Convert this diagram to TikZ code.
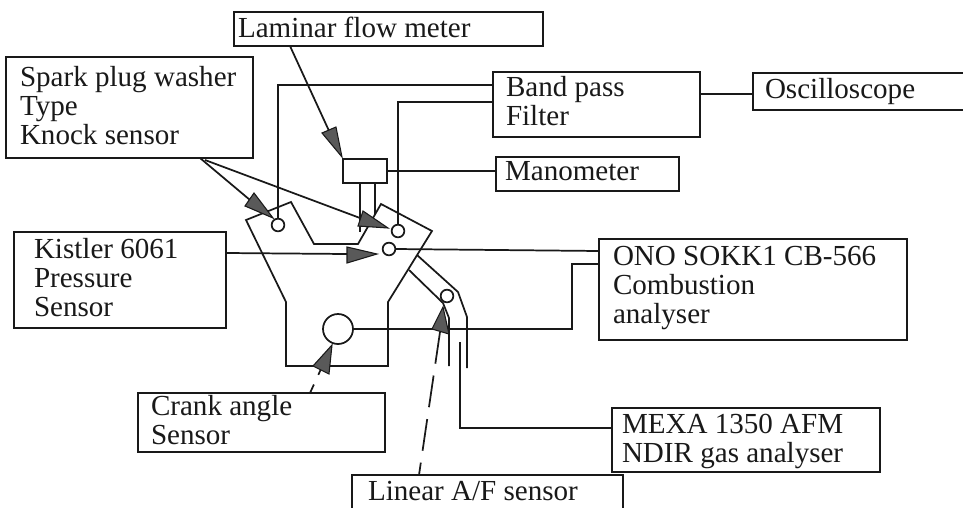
\documentclass[tikz,border=0pt]{standalone}
\usepackage{fontspec}
\setmainfont{Liberation Serif}
\tikzset{
  x=0.75pt,y=-0.75pt,
  line/.style={draw=black!90,line width=1.3pt,line join=miter},
  boxn/.style={draw=black!90,line width=1.4pt,inner sep=0pt,outer sep=0pt,fill=white},
  lbl/.style={anchor=base west,inner sep=0pt,outer sep=0pt,align=left,text=black!90,font=\fontsize{21.8}{21.6}\selectfont},
  sens/.style={circle,draw=black!90,line width=1.3pt,inner sep=0pt,outer sep=0pt,fill=white},
  tipf/.style={fill=black!65,draw=black!90,line width=0.8pt,line join=miter},
  dashl/.style={line,dash pattern=on 24pt off 9pt},
}
\newcommand{\bx}[5]{\node[boxn,minimum width={(#4-#2)*0.75pt},minimum height={(#5-#3)*0.75pt}] (#1) at ({(#2+#4)/2},{(#3+#5)/2}) {};}
\begin{document}
\begin{tikzpicture}
\clip (0,0) rectangle (963,507);
\fill[white] (0,0) rectangle (963,507);

% engine outline
\draw[line] (246,220) -- (291,202) -- (314,244) -- (358,244) -- (381,204) -- (432,231) -- (388,302) -- (388,366) -- (286,366) -- (286,302) -- cycle;
% exhaust
\draw[line] (417,255) -- (458,292) -- (467,317) -- (467,368);
\draw[line] (409,270) -- (443,303) -- (449,318) -- (449,366);

% boxes
\bx{lam}{234}{12}{543}{46}
\bx{spark}{6}{57}{253}{158}
\bx{kis}{14}{232}{226}{328}
\bx{band}{493}{72}{700}{137}
\bx{osc}{753}{73}{975}{110}
\bx{man}{496}{157}{679}{191}
\bx{ono}{599}{239}{907}{340}
\bx{mexa}{612}{408}{880}{472}
\bx{lin}{352}{475}{623}{530}
\bx{crk}{138}{393}{385}{452}
\bx{flow}{343}{159}{387}{183}

% labels
\node[lbl] at (238,37) {Laminar flow meter};
\node[lbl] at (20,144) {Spark plug washer\\Type\\Knock sensor};
\node[lbl] at (34,316) {Kistler 6061\\Pressure\\Sensor};
\node[lbl] at (506,125) {Band pass\\Filter};
\node[lbl] at (765,98) {Oscilloscope};
\node[lbl] at (505,180) {Manometer};
\node[lbl] at (613,323) {ONO SOKK1 CB-566\\Combustion\\analyser};
\node[lbl] at (151,444) {Crank angle\\Sensor};
\node[lbl] at (622,462) {MEXA 1350 AFM\\NDIR gas analyser};
\node[lbl] at (368,500) {Linear A/F sensor};

% sensors
\node[sens,minimum size=9.5pt] (sa) at (278,225) {};
\node[sens,minimum size=9.5pt] (sb) at (398,231) {};
\node[sens,minimum size=9.5pt] (sc) at (389,249) {};
\node[sens,minimum size=9.5pt] (sd) at (447,296) {};
\node[sens,minimum size=22.5pt] (se) at (338,329) {};

% free-end coordinates
\coordinate (bpa) at (493,85);
\coordinate (bpb) at (493,102);
\coordinate (bo) at (700,94);
\coordinate (ob) at (753,94);
\coordinate (onoa) at (599,251);
\coordinate (onob) at (599,264);
\coordinate (elbow) at (572,329);
\coordinate (px) at (460,342);
\coordinate (py) at (460,428);
\coordinate (fa) at (360,183);
\coordinate (fa2) at (360,232);
\coordinate (fb) at (375,183);
\coordinate (fb2) at (375,215);
\coordinate (lamout) at (290,46);
\coordinate (laminto) at (342,157);
\coordinate (spa) at (200,158);
\coordinate (spb) at (205,160);
\coordinate (tspa) at (273,218);
\coordinate (tspb) at (388,228);
\coordinate (kout) at (226,253);
\coordinate (tk) at (377,254);
\coordinate (crout) at (310,393);
\coordinate (tcr) at (332,345);
\coordinate (liout) at (419,475);
\coordinate (tli) at (443,307);

% connectors
\draw[line] (sa.north) |- (bpa);
\draw[line] (sb.north) |- (bpb);
\draw[line] (flow.east) -- (flow.east -| man.west);
\draw[line] (bo) -- (ob);
\draw[line] (sc.east) -- (onoa);
\draw[line] (se.east) -- (elbow) -- (elbow |- onob) -- (onob);
\draw[line] (px) -- (py) -- (py -| mexa.west);
\draw[line,line width=1.6pt] (fa) -- (fa2);
\draw[line] (fb) -- (fb2);

% arrows
\draw[line] (lamout) -- (330,133);
\draw[tipf] (laminto) -- (322,133) -- (336,127) -- cycle;
\draw[line] (spa) -- (250,200);
\draw[tipf] (tspa) -- (245,206) -- (254,193) -- cycle;
\draw[line] (spb) -- (360,218);
\draw[tipf] (tspb) -- (358,226) -- (363,211) -- cycle;
\draw[line] (kout) -- (347,254);
\draw[tipf] (tk) -- (347,247) -- (347,263) -- cycle;
\draw[dashl,dash pattern=on 7pt off 8pt] (crout) -- (tcr);
\draw[tipf] (tcr) -- (313,366) -- (329,374) -- cycle;
\draw[dashl] (440,332) -- (liout);
\draw[tipf] (tli) -- (432,329) -- (449,334) -- cycle;
\end{tikzpicture}
\end{document}
